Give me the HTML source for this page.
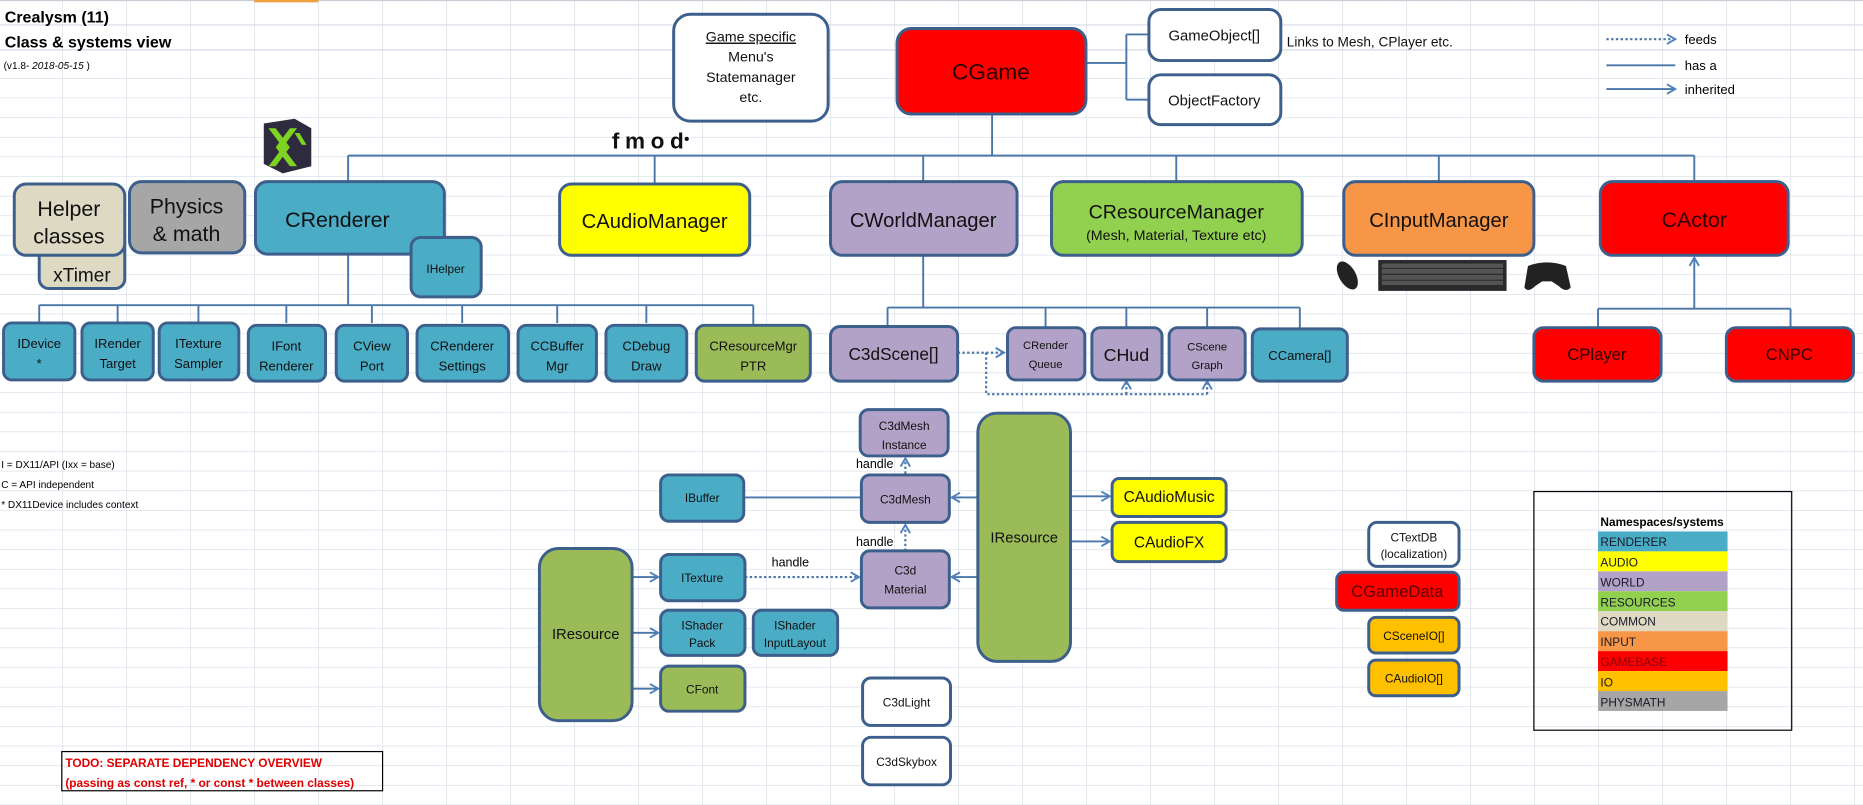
<!DOCTYPE html>
<html><head><meta charset="utf-8"><style>
html,body{margin:0;padding:0;background:#fff;}
svg{display:block;}
text{font-family:"Liberation Sans",sans-serif;}
</style></head><body>
<svg width="1863" height="805" viewBox="0 0 1568 678" preserveAspectRatio="none" xmlns="http://www.w3.org/2000/svg">
<defs>
<pattern id="grid" patternUnits="userSpaceOnUse" x="52.2" y="65.7" width="53.87" height="16.54">
<path d="M0 0V16.54M0 0H53.87" stroke="#d4dae6" stroke-width="1" fill="none"/>
</pattern>
<pattern id="gcol" patternUnits="userSpaceOnUse" x="52.2" y="0" width="53.87" height="678">
<path d="M0 0V678" stroke="#d4dae6" stroke-width="1" fill="none"/>
</pattern>
<marker id="ar" markerWidth="10" markerHeight="10" refX="8" refY="5" orient="auto" markerUnits="userSpaceOnUse">
<path d="M1 1L8 5L1 9" fill="none" stroke="#4f81bd" stroke-width="1.6"/>
</marker>
</defs>
<rect width="1568" height="678" fill="#fff"/>
<rect x="0" y="0" width="1568" height="65.7" fill="url(#gcol)"/>
<rect x="0" y="65.7" width="1568" height="620" fill="url(#grid)"/>
<path d="M0 21H1568M0 42H1568" stroke="#d4dae6" stroke-width="1"/>
<line x1="0" y1="0.5" x2="1568" y2="0.5" stroke="#c8ccd4"/>
<line x1="214" y1="1" x2="268" y2="1" stroke="#f0a040" stroke-width="2"/>

<!-- titles -->
<text x="4" y="19" font-size="13.5" font-weight="bold">Crealysm (11)</text>
<text x="4" y="40" font-size="13.5" font-weight="bold">Class &amp; systems view</text>
<text x="3" y="58" font-size="8.5">(v1.8- <tspan font-style="italic">2018-05-15</tspan> )</text>

<!-- connectors -->
<g stroke="#4a76a8" stroke-width="1.6" fill="none">
<path d="M835 96V131M293 131H1426M293 131V153M551 131V155M777 131V153M990 131V153M1211 131V153M1426 131V153"/>
<path d="M913 53H948M948 29V84M948 29H967M948 84H967"/>
<path d="M293 214V257M33 257H634M33 257V272M99 257V272M167 257V272M241 257V272M313 257V272M389 257V272M469 257V272M544 257V272M634 257V276"/>
<path d="M777 215V259M747 259H1094M747 259V275M880 259V276M948 259V276M1016 259V276M1094 259V277"/>
<path d="M1345 260H1507M1345 260V276M1507 260V276"/>
<path d="M1426 260V217" marker-end="url(#ar)"/>
<path d="M626 419H725"/>
<path d="M823 419H801" marker-end="url(#ar)"/>
<path d="M823 486H801" marker-end="url(#ar)"/>
<path d="M901 418H934" marker-end="url(#ar)"/>
<path d="M901 456H934" marker-end="url(#ar)"/>
<path d="M532 486H554" marker-end="url(#ar)"/>
<path d="M532 533H554" marker-end="url(#ar)"/>
<path d="M532 580H554" marker-end="url(#ar)"/>
<path d="M1352 55H1410"/>
<path d="M1352 75H1410" marker-end="url(#ar)"/>
</g>
<g stroke="#4a76a8" stroke-width="1.8" fill="none" stroke-dasharray="2 2">
<path d="M806 297H845" marker-end="url(#ar)"/>
<path d="M830 297V332H1016"/>
<path d="M948 332V321" marker-end="url(#ar)"/>
<path d="M1016 332V321" marker-end="url(#ar)"/>
<path d="M762 399V386" marker-end="url(#ar)"/>
<path d="M762 464V442" marker-end="url(#ar)"/>
<path d="M627 486H723" marker-end="url(#ar)"/>
<path d="M1352 33H1410" marker-end="url(#ar)"/>
</g>
<g font-size="11">
<text x="1418" y="37">feeds</text>
<text x="1418" y="59">has a</text>
<text x="1418" y="79">inherited</text>
</g>

<!-- boxes -->
<g stroke="#3d5f8c" stroke-width="2.5">
<rect x="567" y="12" width="130" height="90" rx="14" fill="#fff"/>
<rect x="755" y="24" width="159" height="72" rx="12" fill="#ff0000"/>
<rect x="967" y="8" width="111" height="43" rx="10" fill="#fff"/>
<rect x="967" y="63" width="111" height="42" rx="10" fill="#fff"/>

<rect x="33" y="195" width="72" height="48" rx="8" fill="#ddd9c3"/>
<rect x="12" y="155" width="93" height="60" rx="10" fill="#ddd9c3"/>
<rect x="109" y="153" width="97" height="60" rx="10" fill="#a6a6a6"/>
<rect x="215" y="153" width="159" height="61" rx="10" fill="#4bacc6"/>
<rect x="346" y="200" width="59" height="50" rx="8" fill="#4bacc6"/>
<rect x="471" y="155" width="160" height="60" rx="10" fill="#ffff00"/>
<rect x="699" y="153" width="157" height="62" rx="10" fill="#b3a2c7"/>
<rect x="885" y="153" width="211" height="62" rx="10" fill="#92d050"/>
<rect x="1131" y="153" width="160" height="62" rx="10" fill="#f79646"/>
<rect x="1347" y="153" width="158" height="62" rx="10" fill="#ff0000"/>

<g fill="#4bacc6">
<rect x="3" y="272" width="60" height="48" rx="7"/>
<rect x="69" y="272" width="60" height="48" rx="7"/>
<rect x="134" y="272" width="67" height="48" rx="7"/>
<rect x="209" y="274" width="65" height="47" rx="7"/>
<rect x="283" y="274" width="60" height="47" rx="7"/>
<rect x="351" y="274" width="77" height="47" rx="7"/>
<rect x="436" y="274" width="66" height="47" rx="7"/>
<rect x="510" y="274" width="68" height="47" rx="7"/>
</g>
<rect x="586" y="274" width="96" height="47" rx="7" fill="#9bbb59"/>

<g fill="#b3a2c7">
<rect x="699" y="275" width="107" height="46" rx="8"/>
<rect x="848" y="276" width="65" height="44" rx="7"/>
<rect x="919" y="276" width="59" height="44" rx="7"/>
<rect x="984" y="276" width="64" height="44" rx="7"/>
<rect x="724" y="345" width="74" height="39" rx="7"/>
<rect x="725" y="400" width="74" height="40" rx="7"/>
<rect x="725" y="464" width="74" height="48" rx="7"/>
</g>
<rect x="1054" y="277" width="80" height="44" rx="7" fill="#4bacc6"/>
<rect x="1291" y="276" width="107" height="45" rx="8" fill="#ff0000"/>
<rect x="1453" y="276" width="107" height="45" rx="8" fill="#ff0000"/>

<rect x="556" y="400" width="70" height="39" rx="7" fill="#4bacc6"/>
<rect x="823" y="348" width="78" height="209" rx="16" fill="#9bbb59"/>
<rect x="936" y="403" width="96" height="32" rx="6" fill="#ffff00"/>
<rect x="936" y="440" width="96" height="33" rx="6" fill="#ffff00"/>
<rect x="454" y="462" width="78" height="145" rx="16" fill="#9bbb59"/>
<rect x="556" y="467" width="71" height="39" rx="7" fill="#4bacc6"/>
<rect x="556" y="514" width="71" height="38" rx="7" fill="#4bacc6"/>
<rect x="634" y="514" width="71" height="38" rx="7" fill="#4bacc6"/>
<rect x="556" y="561" width="71" height="38" rx="7" fill="#9bbb59"/>
<rect x="726" y="571" width="74" height="40" rx="7" fill="#fff"/>
<rect x="726" y="621" width="74" height="40" rx="7" fill="#fff"/>

<rect x="1152" y="440" width="76" height="37" rx="7" fill="#fff"/>
<rect x="1125" y="482" width="103" height="32" rx="6" fill="#ff0000"/>
<rect x="1152" y="520" width="76" height="30" rx="6" fill="#ffc000"/>
<rect x="1152" y="556" width="76" height="30" rx="6" fill="#ffc000"/>
</g>

<!-- box texts -->
<g text-anchor="middle" fill="#111">
<text x="632" y="35" font-size="12" text-decoration="underline">Game specific</text>
<text x="632" y="52" font-size="12">Menu's</text>
<text x="632" y="69" font-size="12">Statemanager</text>
<text x="632" y="86" font-size="12">etc.</text>
<text x="834" y="67" font-size="19" fill="#2a0000">CGame</text>
<text x="1022" y="34" font-size="12.5">GameObject[]</text>
<text x="1022" y="89" font-size="12.5">ObjectFactory</text>
<text x="1083" y="39" font-size="11.5" text-anchor="start">Links to Mesh, CPlayer etc.</text>

<text x="58" y="182" font-size="18">Helper</text>
<text x="58" y="205" font-size="18">classes</text>
<text x="69" y="237" font-size="16">xTimer</text>
<text x="157" y="180" font-size="18">Physics</text>
<text x="157" y="203" font-size="18">&amp; math</text>
<text x="284" y="191" font-size="18">CRenderer</text>
<text x="375" y="230" font-size="10">IHelper</text>
<text x="551" y="192" font-size="17">CAudioManager</text>
<text x="777" y="191" font-size="17">CWorldManager</text>
<text x="990" y="184" font-size="16.5">CResourceManager</text>
<text x="990" y="202" font-size="12">(Mesh, Material, Texture etc)</text>
<text x="1211" y="191" font-size="17">CInputManager</text>
<text x="1426" y="191" font-size="18" fill="#2a0000">CActor</text>

<g font-size="11">
<text x="33" y="293">IDevice</text><text x="33" y="310">*</text>
<text x="99" y="293">IRender</text><text x="99" y="310">Target</text>
<text x="167" y="293">ITexture</text><text x="167" y="310">Sampler</text>
<text x="241" y="295">IFont</text><text x="241" y="312">Renderer</text>
<text x="313" y="295">CView</text><text x="313" y="312">Port</text>
<text x="389" y="295">CRenderer</text><text x="389" y="312">Settings</text>
<text x="469" y="295">CCBuffer</text><text x="469" y="312">Mgr</text>
<text x="544" y="295">CDebug</text><text x="544" y="312">Draw</text>
<text x="634" y="295">CResourceMgr</text><text x="634" y="312">PTR</text>
</g>
<text x="752" y="303" font-size="14.5">C3dScene[]</text>
<text x="880" y="294" font-size="9.5">CRender</text><text x="880" y="310" font-size="9.5">Queue</text>
<text x="948" y="304" font-size="15">CHud</text>
<text x="1016" y="295" font-size="9.5">CScene</text><text x="1016" y="311" font-size="9.5">Graph</text>
<text x="1094" y="303" font-size="11">CCamera[]</text>
<text x="1344" y="303" font-size="14" fill="#2a0000">CPlayer</text>
<text x="1506" y="303" font-size="14" fill="#2a0000">CNPC</text>

<g font-size="10">
<text x="761" y="362">C3dMesh</text><text x="761" y="378">Instance</text>
<text x="762" y="424">C3dMesh</text>
<text x="762" y="484">C3d</text><text x="762" y="500">Material</text>
<text x="591" y="423">IBuffer</text>
<text x="591" y="490">ITexture</text>
<text x="591" y="530">IShader</text><text x="591" y="545">Pack</text>
<text x="669" y="530">IShader</text><text x="669" y="545">InputLayout</text>
<text x="591" y="584">CFont</text>
<text x="763" y="595">C3dLight</text>
<text x="763" y="645">C3dSkybox</text>
<text x="1190" y="456">CTextDB</text><text x="1190" y="470">(localization)</text>
<text x="1190" y="539">CSceneIO[]</text>
<text x="1190" y="575">CAudioIO[]</text>
</g>
<text x="862" y="457" font-size="12.5">IResource</text>
<text x="493" y="538" font-size="12.5">IResource</text>
<text x="984" y="423" font-size="13">CAudioMusic</text>
<text x="984" y="461" font-size="13">CAudioFX</text>
<text x="1176" y="503" font-size="14" fill="#5a0000">CGameData</text>
</g>
<g font-size="10.5" text-anchor="end">
<text x="752" y="394">handle</text>
<text x="752" y="460">handle</text>
<text x="681" y="477">handle</text>
</g>

<!-- notes -->
<g font-size="8.5">
<text x="1" y="394">I = DX11/API (Ixx = base)</text>
<text x="1" y="411">C = API independent</text>
<text x="1" y="428">* DX11Device includes context</text>
</g>
<rect x="52" y="633" width="270" height="33" fill="none" stroke="#000" stroke-width="1"/>
<g font-size="10" font-weight="bold" fill="#e00000">
<text x="55" y="646">TODO: SEPARATE DEPENDENCY OVERVIEW</text>
<text x="55" y="663">(passing as const ref, * or const * between classes)</text>
</g>

<!-- legend -->
<rect x="1291" y="414" width="217" height="201" fill="none" stroke="#000" stroke-width="1"/>
<text x="1347" y="443" font-size="10" font-weight="bold">Namespaces/systems</text>
<rect x="1345" y="447.6" width="109" height="16.8" fill="#4bacc6"/>
<rect x="1345" y="464.4" width="109" height="16.8" fill="#ffff00"/>
<rect x="1345" y="481.2" width="109" height="16.8" fill="#b3a2c7"/>
<rect x="1345" y="498" width="109" height="16.8" fill="#92d050"/>
<rect x="1345" y="514.8" width="109" height="16.8" fill="#ddd9c3"/>
<rect x="1345" y="531.6" width="109" height="16.8" fill="#f79646"/>
<rect x="1345" y="548.4" width="109" height="16.8" fill="#ff0000"/>
<rect x="1345" y="565.2" width="109" height="16.8" fill="#ffc000"/>
<rect x="1345" y="582" width="109" height="16.8" fill="#a6a6a6"/>
<g font-size="10" fill="#1a1a2a">
<text x="1347" y="460">RENDERER</text>
<text x="1347" y="477">AUDIO</text>
<text x="1347" y="494">WORLD</text>
<text x="1347" y="511">RESOURCES</text>
<text x="1347" y="527">COMMON</text>
<text x="1347" y="544">INPUT</text>
<text x="1347" y="561" fill="#8a0000">GAMEBASE</text>
<text x="1347" y="578">IO</text>
<text x="1347" y="595">PHYSMATH</text>
</g>

<!-- logos -->
<g>
<polygon points="222,104 248,100 262,108 262,140 238,146 222,138" fill="#2e2b3e"/>
<polygon points="226,108 232,108 244,124 232,140 226,140 238,124" fill="#7ed321"/>
<polygon points="244,108 250,108 238,124 250,140 244,140 232,124" fill="#7ed321"/>
<polygon points="248,112 252,112 258,122 254,122" fill="#7ed321"/>
</g>
<text x="515" y="125" font-size="19" font-weight="bold" fill="#111" letter-spacing="-0.5" textLength="60">fmod</text>
<circle cx="578" cy="117" r="1.8" fill="#111"/>
<!-- input devices -->
<ellipse cx="1134" cy="232" rx="7" ry="13" fill="#222" transform="rotate(-30 1134 232)"/>
<rect x="1160" y="219" width="108" height="26" fill="#2a2a2a"/>
<rect x="1163" y="222" width="102" height="18" fill="#666" opacity="0.7"/>
<path d="M1163 226H1265M1163 231H1265M1163 236H1265" stroke="#222" stroke-width="0.8"/>
<path d="M1286 224Q1302 218 1318 224L1322 242Q1318 247 1312 241L1306 237H1298L1292 241Q1286 247 1283 242Z" fill="#222"/>
</svg>
</body></html>
